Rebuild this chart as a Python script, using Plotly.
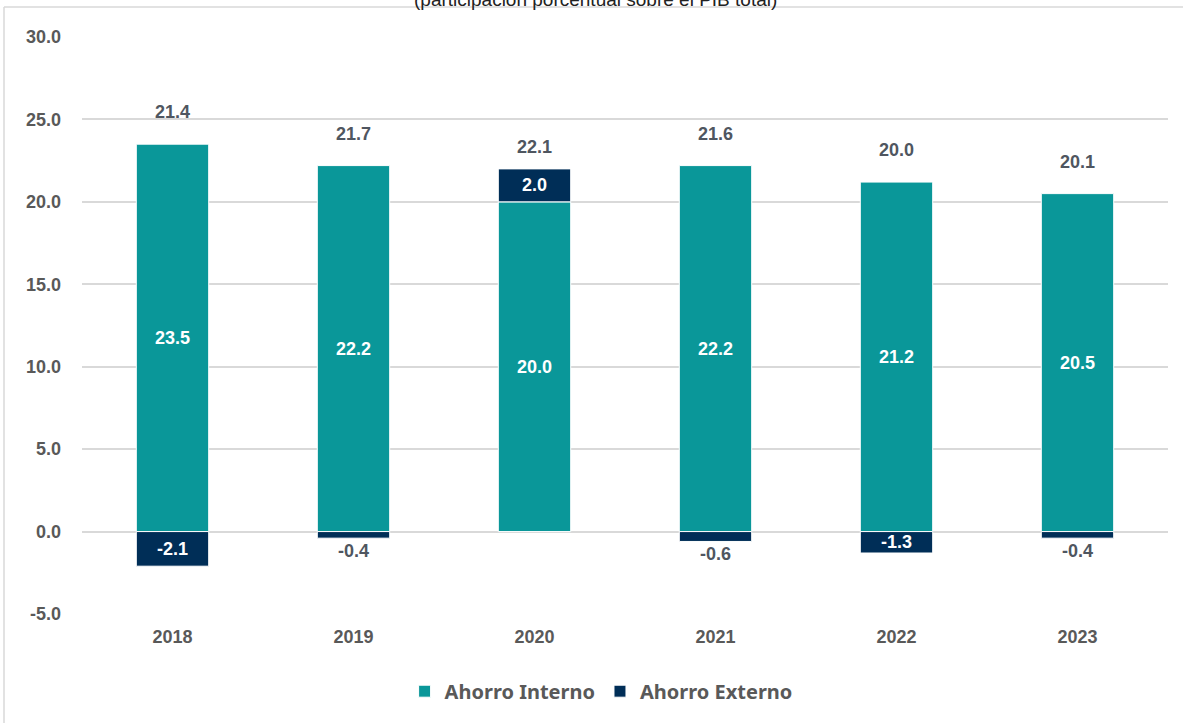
import plotly.graph_objects as go

years = ["2018", "2019", "2020", "2021", "2022", "2023"]
ahorro_interno = [23.5, 22.2, 20.0, 22.2, 21.2, 20.5]
ahorro_externo = [-2.1, -0.4, 2.0, -0.6, -1.3, -0.4]
totales = [21.4, 21.7, 22.1, 21.6, 20.0, 20.1]
tick_vals = [-5, 0, 5, 10, 15, 20, 25, 30]

TEAL = "#0A9799"
NAVY = "#002E57"
GRAY = "#595959"
LABEL = "#4F5660"
FONT = "Liberation Sans, Arial, sans-serif"

ext_pos = ["outside" if abs(v) < 1 else "inside" for v in ahorro_externo]

fig = go.Figure()
fig.add_trace(go.Bar(
    x=years, y=ahorro_interno, name="Ahorro Interno",
    marker=dict(color=TEAL, line=dict(color="white", width=1)),
    text=[f"{v:.1f}" for v in ahorro_interno], textposition="inside",
    insidetextanchor="middle",
    insidetextfont=dict(color="white", size=18, family=FONT, weight="bold"),
))
fig.add_trace(go.Bar(
    x=years, y=ahorro_externo, name="Ahorro Externo",
    marker=dict(color=NAVY, line=dict(color="white", width=1)),
    text=[f"{v:.1f}" for v in ahorro_externo], textposition=ext_pos,
    insidetextanchor="middle", constraintext="none",
    insidetextfont=dict(color="white", size=18, family=FONT, weight="bold"),
    outsidetextfont=dict(color=LABEL, size=18, family=FONT, weight="bold"),
))

annotations = []
for i, (a, e, t) in enumerate(zip(ahorro_interno, ahorro_externo, totales)):
    top = a + max(e, 0)
    annotations.append(dict(
        x=i, y=top, xref="x", yref="y", text=f"{t:.1f}", showarrow=False,
        yanchor="bottom", yshift=20 if e <= 0 else 10,
        font=dict(color=LABEL, size=18, family=FONT, weight="bold"),
    ))
annotations.append(dict(
    x=0.473, y=1, xref="paper", yref="paper", showarrow=False,
    text="(participación porcentual sobre el PIB total)",
    yanchor="middle", yshift=38,
    font=dict(color="#222222", size=19, family=FONT),
))

fig.update_layout(
    width=1186, height=723,
    barmode="relative", bargap=0.6,
    plot_bgcolor="white", paper_bgcolor="white",
    margin=dict(l=82, r=18, t=37, b=109, autoexpand=False),
    font=dict(family=FONT, color=GRAY),
    annotations=annotations,
    legend=dict(
        orientation="h", x=0.478, xanchor="center", y=-0.1, yanchor="top",
        font=dict(family="Noto Sans, Open Sans, sans-serif", size=20, color=GRAY, weight="bold"),
        traceorder="normal",
    ),
    xaxis=dict(
        type="category", range=[-0.5, len(years) - 0.5],
        showgrid=False, showline=False, ticks="", ticklabelstandoff=10,
        tickfont=dict(size=18, color=GRAY, weight="bold", family=FONT),
    ),
    yaxis=dict(
        range=[-5, 30], tickvals=tick_vals,
        ticktext=[f"{v:.1f}" for v in tick_vals],
        showgrid=True, gridcolor="#D9D9D9", gridwidth=2,
        zeroline=False, showline=False, ticks="", ticklabelstandoff=20,
        tickfont=dict(size=18, color=GRAY, weight="bold", family=FONT),
    ),
    shapes=[
        dict(type="line", xref="paper", yref="paper",
             x0=(4 - 82) / 1086, x1=(1183 - 82) / 1086,
             y0=1 + 30 / 577, y1=1 + 30 / 577,
             line=dict(color="#D9D9D9", width=1.5)),
        dict(type="line", xref="paper", yref="paper",
             x0=(4 - 82) / 1086, x1=(4 - 82) / 1086,
             y0=1 + 30 / 577, y1=-109 / 577,
             line=dict(color="#D9D9D9", width=1.5)),
    ],
)

fig.write_html("out.html", config={"displayModeBar": False},
               post_script="document.body.style.margin='0';")
